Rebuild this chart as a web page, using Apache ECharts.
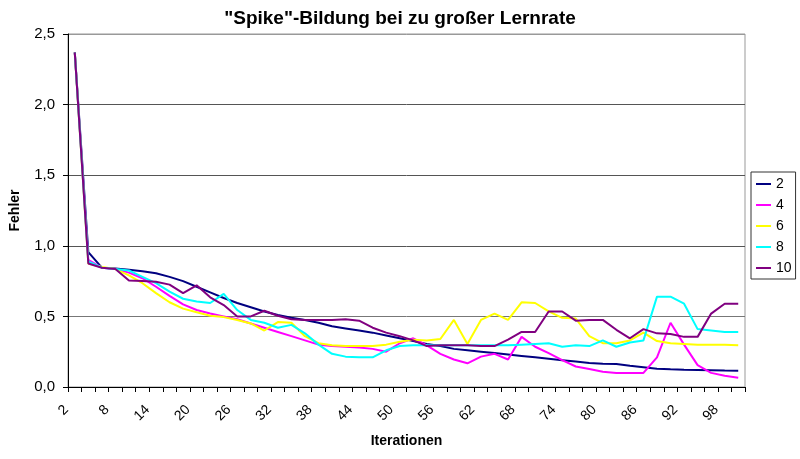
<!DOCTYPE html>
<html>
<head>
<meta charset="utf-8">
<script src="https://cdn.jsdelivr.net/npm/echarts@6/dist/echarts.min.js"></script>
<style>
html,body{margin:0;padding:0;background:#fff;}
#chart{width:800px;height:459px;}
</style>
</head>
<body>
<div id="chart"></div>
<script>
const categories = ['2','4','6','8','10','12','14','16','18','20','22','24','26','28','30','32','34','36','38','40','42','44','46','48','50','52','54','56','58','60','62','64','66','68','70','72','74','76','78','80','82','84','86','88','90','92','94','96','98','100'];
const seriesNames = ['2','4','6','8','10'];
const s2 = [2.37,0.955,0.845,0.84,0.83,0.82,0.805,0.78,0.75,0.71,0.67,0.63,0.595,0.565,0.535,0.51,0.49,0.475,0.455,0.43,0.415,0.40,0.385,0.365,0.345,0.325,0.305,0.29,0.27,0.26,0.25,0.24,0.23,0.22,0.21,0.20,0.19,0.18,0.17,0.165,0.163,0.15,0.14,0.13,0.125,0.122,0.12,0.118,0.116,0.115];
const s4 = [2.37,0.90,0.845,0.835,0.81,0.77,0.71,0.645,0.585,0.545,0.52,0.50,0.48,0.45,0.42,0.39,0.36,0.33,0.30,0.29,0.285,0.28,0.27,0.25,0.31,0.345,0.295,0.235,0.195,0.168,0.215,0.235,0.195,0.355,0.285,0.24,0.19,0.145,0.127,0.108,0.10,0.10,0.10,0.21,0.455,0.30,0.155,0.10,0.08,0.065];
const s6 = [2.37,0.875,0.85,0.835,0.79,0.735,0.665,0.60,0.555,0.53,0.505,0.495,0.475,0.45,0.40,0.46,0.455,0.36,0.31,0.295,0.29,0.29,0.29,0.30,0.32,0.335,0.33,0.34,0.475,0.305,0.475,0.52,0.475,0.60,0.595,0.535,0.49,0.485,0.36,0.31,0.31,0.33,0.385,0.325,0.31,0.305,0.30,0.30,0.30,0.295];
const s8 = [2.37,0.89,0.845,0.835,0.825,0.78,0.735,0.675,0.625,0.605,0.595,0.66,0.545,0.475,0.455,0.42,0.44,0.38,0.30,0.235,0.215,0.21,0.21,0.26,0.29,0.295,0.295,0.295,0.295,0.295,0.295,0.295,0.295,0.30,0.305,0.31,0.285,0.295,0.29,0.33,0.285,0.315,0.33,0.64,0.64,0.59,0.41,0.40,0.39,0.39];
const s10 = [2.37,0.875,0.845,0.835,0.755,0.75,0.745,0.725,0.665,0.72,0.635,0.58,0.50,0.50,0.54,0.505,0.48,0.475,0.475,0.475,0.48,0.47,0.42,0.385,0.36,0.33,0.29,0.295,0.295,0.295,0.29,0.29,0.335,0.39,0.39,0.535,0.535,0.47,0.475,0.475,0.405,0.345,0.41,0.38,0.375,0.355,0.355,0.52,0.59,0.59];
const seriesData = [s2, s4, s6, s8, s10];
const colors = ['#000080','#FF00FF','#FFFF00','#00FFFF','#800080'];
const FONT = '"Liberation Sans", Arial, sans-serif';

const chart = echarts.init(document.getElementById('chart'), null, {renderer:'canvas'});
chart.setOption({
  backgroundColor: '#fff',
  animation: false,
  color: colors,
  title: {
    text: '"Spike"-Bildung bei zu großer Lernrate',
    left: 'center', top: 4,
    textStyle: {fontFamily: FONT, fontSize: 19, fontWeight: 'bold', color: '#000'}
  },
  legend: {
    orient: 'vertical',
    left: 751, top: 172,
    padding: [5, 4, 4, 5],
    icon: 'rect',
    itemWidth: 15, itemHeight: 2, itemGap: 7,
    borderColor: '#333', borderWidth: 1,
    backgroundColor: '#fff',
    textStyle: {fontFamily: FONT, fontSize: 14, lineHeight: 14, color: '#000'},
    data: seriesNames
  },
  grid: {left: 63, right: 55, top: 34, bottom: 72, show: true, borderColor: '#999', borderWidth: 1, backgroundColor: '#fff'},
  xAxis: {
    type: 'category',
    data: categories,
    boundaryGap: true,
    name: 'Iterationen',
    nameLocation: 'middle',
    nameGap: 47,
    nameTextStyle: {fontFamily: FONT, fontSize: 14, fontWeight: 'bold', color: '#000'},
    axisLine: {lineStyle: {color: '#000', width: 1}},
    axisTick: {show: true, interval: 0, length: 5, lineStyle: {color: '#000'}},
    axisLabel: {interval: 2, rotate: 45, margin: 12, padding: [0, 12, 0, 0], fontFamily: FONT, fontSize: 14, color: '#000'},
    splitLine: {show: false}
  },
  yAxis: {
    type: 'value',
    min: 0, max: 2.5, interval: 0.5,
    name: 'Fehler',
    nameLocation: 'middle',
    nameGap: 46,
    nameTextStyle: {fontFamily: FONT, fontSize: 14, fontWeight: 'bold', color: '#000'},
    axisLine: {show: true, lineStyle: {color: '#000', width: 1}},
    axisTick: {show: true, length: 5, lineStyle: {color: '#000'}},
    axisLabel: {margin: 13, fontFamily: FONT, fontSize: 15, color: '#000',
      formatter: v => v.toFixed(1).replace('.', ',')},
    splitLine: {show: true, lineStyle: {color: ['#000','#777','#555','#555','#555','#999'], width: 1}}
  },
  series: seriesData.map((d, k) => ({
    name: seriesNames[k],
    type: 'line',
    data: d,
    symbol: 'none',
    lineStyle: {width: 2, color: colors[k]},
    itemStyle: {color: colors[k]}
  }))
});
</script>
</body>
</html>
